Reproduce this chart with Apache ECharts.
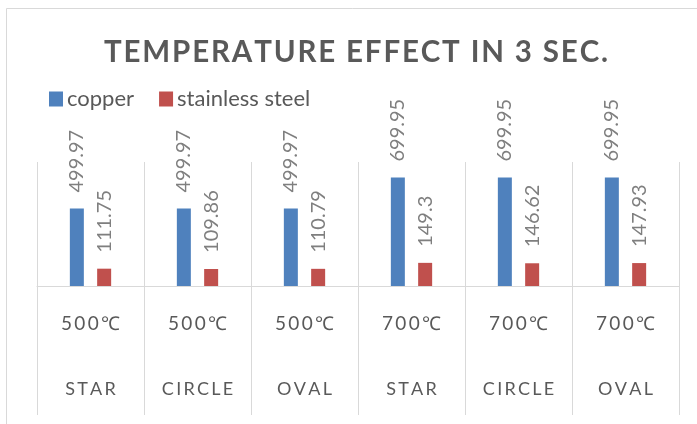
<!DOCTYPE html>
<html>
<head>
<meta charset="utf-8">
<script src="https://cdn.jsdelivr.net/npm/echarts@6/dist/echarts.min.js"></script>
<style>
  html, body { margin: 0; padding: 0; background: #ffffff; }
  #chart { width: 697px; height: 424px; }
</style>
</head>
<body>
<div id="chart"></div>
<script>
// Temperature reached after 3 seconds, per heater shape and set point
var temperatures = ['500℃', '500℃', '500℃', '700℃', '700℃', '700℃'];
var shapes = ['STAR', 'CIRCLE', 'OVAL', 'STAR', 'CIRCLE', 'OVAL'];
var copper = [499.97, 499.97, 499.97, 699.95, 699.95, 699.95];
var stainlessSteel = [111.75, 109.86, 110.79, 149.3, 146.62, 147.93];
var seriesNames = ['copper', 'stainless steel'];
var titleText = 'TEMPERATURE EFFECT IN 3 SEC.';

// Widen text by putting a narrow space between the characters
function track(str, sep) {
  return str.split('').join(sep);
}

var THIN = '\u2009';
var HAIR = '\u200A';
var FONT = 'Lato, "Open Sans", sans-serif';
var GRIDLINE = '#d9d9d9';

var categories = temperatures.map(function (t, i) { return i; });

var chart = echarts.init(document.getElementById('chart'), null, { renderer: 'canvas' });

var valueLabel = {
  show: true,
  position: 'top',
  rotate: 90,
  align: 'left',
  verticalAlign: 'middle',
  distance: 16,
  fontFamily: FONT,
  fontSize: 20,
  color: '#7f7f7f'
};

var option = {
  backgroundColor: '#ffffff',
  animation: false,
  title: {
    text: track(titleText, HAIR),
    left: 351,
    top: 32,
    textAlign: 'center',
    textStyle: {
      fontFamily: FONT,
      fontWeight: 'bold',
      fontSize: 29.5,
      color: '#595959'
    }
  },
  legend: {
    left: 44,
    top: 83,
    itemWidth: 14,
    itemHeight: 15,
    itemGap: 25,
    icon: 'rect',
    textStyle: {
      fontFamily: FONT,
      fontSize: 22,
      color: '#595959',
      padding: [0, 0, 0, -1]
    },
    data: seriesNames
  },
  graphic: [{
    type: 'rect',
    shape: { x: 6.5, y: 8.5, width: 800, height: 600 },
    style: { fill: 'none', stroke: GRIDLINE, lineWidth: 1 },
    silent: true,
    z: -1
  }],
  grid: {
    left: 37,
    right: 18,
    top: 162,
    bottom: 138
  },
  xAxis: {
    type: 'category',
    data: categories,
    axisLine: { show: true, lineStyle: { color: GRIDLINE, width: 1 } },
    axisTick: { show: true, length: 129, lineStyle: { color: GRIDLINE, width: 1 } },
    splitLine: { show: true, lineStyle: { color: GRIDLINE, width: 1 } },
    axisLabel: {
      margin: 8,
      interval: 0,
      fontFamily: FONT,
      formatter: function (v) {
        var i = Number(v);
        return '{t|' + track(temperatures[i], THIN) + '}\n{s|' + track(shapes[i], THIN) + '}';
      },
      rich: {
        t: { fontFamily: FONT, fontSize: 19, color: '#595959', lineHeight: 60 },
        s: { fontFamily: FONT, fontSize: 18, color: '#595959', lineHeight: 70 }
      }
    }
  },
  yAxis: {
    type: 'value',
    min: 0,
    max: 800,
    show: false,
    splitLine: { show: false }
  },
  series: [
    {
      name: seriesNames[0],
      type: 'bar',
      data: copper,
      barWidth: 14,
      barGap: '95%',
      itemStyle: { color: '#4F81BD' },
      label: valueLabel
    },
    {
      name: seriesNames[1],
      type: 'bar',
      data: stainlessSteel,
      barWidth: 14,
      itemStyle: { color: '#C0504D' },
      label: valueLabel
    }
  ]
};

chart.setOption(option);
</script>
</body>
</html>
